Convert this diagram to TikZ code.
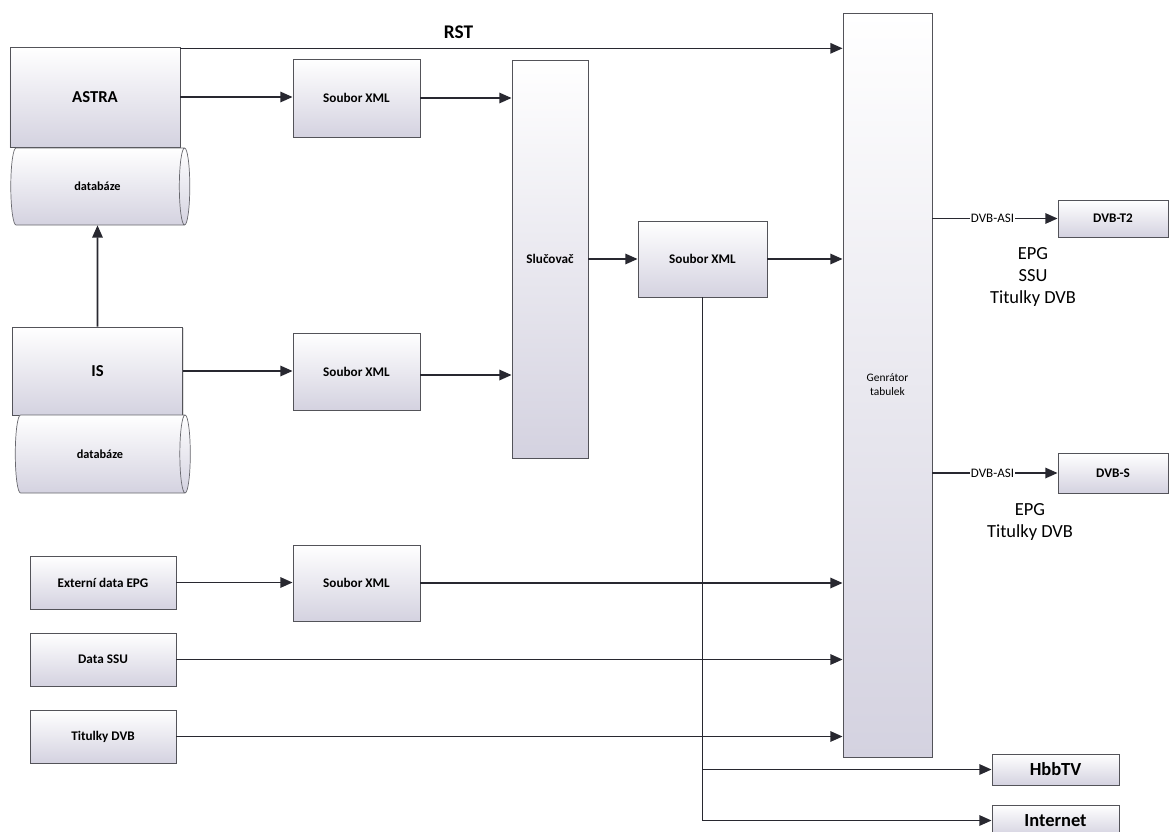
\documentclass[tikz,border=0pt]{standalone}
\usepackage{fontspec}
\setmainfont{Carlito}
\usetikzlibrary{arrows.meta,shapes.geometric,shadows}
\definecolor{boxbot}{RGB}{212,210,224}
\definecolor{linecol}{RGB}{40,40,48}
\tikzset{
  box/.style={draw=linecol!80 ,line width=.5pt ,rectangle ,top color=white ,bottom color=boxbot ,
    drop shadow={opacity=.25 ,shadow xshift=.7pt ,shadow yshift=-.7pt} ,
    font=\bfseries\fontsize{7.5}{9}\selectfont ,inner sep=1pt},
  dbase/.style={draw=linecol!70 ,line width=.4pt ,cylinder ,shape aspect=1.2 ,top color=white ,bottom color=boxbot ,
    font=\bfseries\fontsize{7}{8}\selectfont ,inner sep=0pt},
  flow/.style={draw=linecol ,line width=.9pt ,-{Triangle[length=7pt,width=6pt]}},
  plain/.style={draw=linecol ,line width=.9pt}
}
\begin{document}
\begin{tikzpicture}
\useasboundingbox (0 ,0) rectangle (23.46 ,-16.62);
\node [box ,minimum width=3.4cm ,minimum height=2cm ,font=\bfseries\fontsize{9.5}{11}\selectfont] (astra) at (1.9 ,-1.94) {ASTRA};
\node [dbase ,minimum height=3.58cm ,minimum width=1.54cm] (db1) at (1.95 ,-3.73) {databáze};
\node [box ,minimum width=3.4cm ,minimum height=1.76cm ,font=\bfseries\fontsize{9.5}{11}\selectfont] (is) at (1.95 ,-7.42) {IS};
\node [dbase ,minimum height=3.5cm ,minimum width=1.56cm] (db2) at (2.0 ,-9.08) {databáze};
\node [box ,minimum width=2.54cm ,minimum height=1.56cm] (xml1) at (7.13 ,-1.96) {Soubor XML};
\node [box ,minimum width=2.54cm ,minimum height=1.54cm] (xml2) at (7.13 ,-7.43) {Soubor XML};
\node [box ,minimum width=1.52cm ,minimum height=7.96cm] (merge) at (11.0 ,-5.18) {Slučovač};
\node [box ,minimum width=2.58cm ,minimum height=1.52cm] (xml3) at (14.05 ,-5.18) {Soubor XML};
\node [box ,minimum width=1.78cm ,minimum height=14.88cm ,align=center ,font=\fontsize{6.5}{8}\selectfont] (gen) at (17.75 ,-7.7) {Genrátor\\tabulek};
\node [box ,minimum width=2.92cm ,minimum height=1.06cm] (epg) at (2.06 ,-11.65) {Externí data EPG};
\node [box ,minimum width=2.54cm ,minimum height=1.52cm] (xml4) at (7.13 ,-11.66) {Soubor XML};
\node [box ,minimum width=2.92cm ,minimum height=1.06cm] (ssu) at (2.06 ,-13.19) {Data SSU};
\node [box ,minimum width=2.92cm ,minimum height=1.06cm] (tit) at (2.06 ,-14.73) {Titulky DVB};
\node [box ,minimum width=2.2cm ,minimum height=.74cm] (dvbt) at (22.26 ,-4.37) {DVB-T2};
\node [box ,minimum width=2.2cm ,minimum height=.8cm] (dvbs) at (22.26 ,-9.46) {DVB-S};
\node [box ,minimum width=2.54cm ,minimum height=.62cm ,font=\bfseries\fontsize{10.5}{12}\selectfont] (hbbtv) at (21.11 ,-15.39) {HbbTV};
\node [box ,minimum width=2.54cm ,minimum height=.62cm ,font=\bfseries\fontsize{10.5}{12}\selectfont] (internet) at (21.11 ,-16.41) {Internet};
\node [align=center ,font=\fontsize{10.5}{12.5}\selectfont] (outt) at (20.66 ,-5.54) {EPG\\SSU\\Titulky DVB};
\node [align=center ,font=\fontsize{10.5}{12.5}\selectfont] (outs) at (20.6 ,-10.44) {EPG\\Titulky DVB};

\draw [flow] ([yshift=-1pt]astra.north east) -- ([yshift=-1pt]astra.north east -| gen.west)
  node [pos=.42 ,above=2pt ,font=\bfseries\fontsize{11}{13}\selectfont] (rst) {RST};
\draw [flow] (astra.east) -- (astra.east -| xml1.west);
\draw [flow] (xml1.east) -- (xml1.east -| merge.west);
\draw [flow] (is.north) -- (db1.south);
\draw [flow] (is.east) -- (is.east -| xml2.west);
\draw [flow] ([yshift=-2pt]xml2.east) -- ([yshift=-2pt]xml2.east -| merge.west);
\draw [flow] (merge.east |- xml3.west) -- (xml3.west);
\draw [flow] (xml3.east) -- (xml3.east -| gen.west);
\draw [flow] (epg.east) -- (epg.east -| xml4.west);
\draw [flow] (xml4.east) -- (xml4.east -| gen.west);
\draw [flow] (ssu.east) -- (ssu.east -| gen.west);
\draw [flow] (tit.east) -- (tit.east -| gen.west);
\draw [plain] (xml3.south) -- (xml3.south |- internet.west);
\draw [flow] (xml3.south |- hbbtv.west) -- (hbbtv.west);
\draw [flow] (xml3.south |- internet.west) -- (internet.west);
\draw [flow] (gen.east |- dvbt.west) -- (dvbt.west)
  node [pos=.48 ,fill=white ,inner sep=.5pt ,font=\fontsize{7.4}{9}\selectfont] (asit) {DVB-ASI};
\draw [flow] (gen.east |- dvbs.west) -- (dvbs.west)
  node [pos=.48 ,fill=white ,inner sep=.5pt ,font=\fontsize{7.4}{9}\selectfont] (asis) {DVB-ASI};
\end{tikzpicture}
\end{document}
